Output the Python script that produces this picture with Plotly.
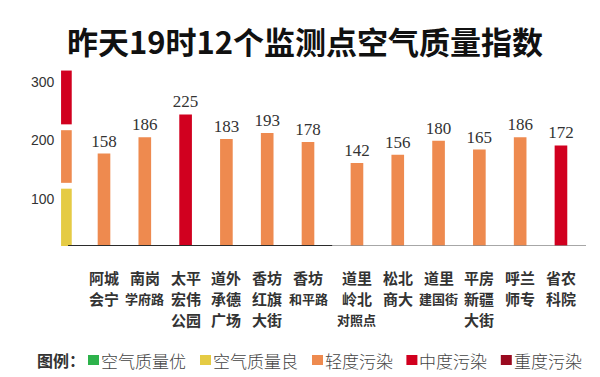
import plotly.graph_objects as go

# ---- data ----
station_lines = [
    ["阿城", "会宁"],
    ["南岗", "学府路"],
    ["太平", "宏伟", "公园"],
    ["道外", "承德", "广场"],
    ["香坊", "红旗", "大街"],
    ["香坊", "和平路"],
    ["道里", "岭北", "对照点"],
    ["松北", "商大"],
    ["道里", "建国街"],
    ["平房", "新疆", "大街"],
    ["呼兰", "师专"],
    ["省农", "科院"],
]
aqi_values = [158, 186, 225, 183, 193, 178, 142, 156, 180, 165, 186, 172]
bar_levels = ["轻度污染", "轻度污染", "中度污染", "轻度污染", "轻度污染", "轻度污染",
              "轻度污染", "轻度污染", "轻度污染", "轻度污染", "轻度污染", "中度污染"]
legend_levels = ["空气质量优", "空气质量良", "轻度污染", "中度污染", "重度污染"]
legend_colors = ["#2DB24B", "#E5CB44", "#EE8A4F", "#D1001F", "#9A0A1F"]
scale_bands = [(0, 100), (100, 200), (200, 300)]
scale_colors = ["#E5CB44", "#EE8A4F", "#D1001F"]
tick_values = [100, 200, 300]
title_text = "昨天19时12个监测点空气质量指数"

color_of = dict(zip(legend_levels, legend_colors))

W, H = 600, 377
MT, MB = 45, 139
PLOT_H = H - MT - MB
X0_PX, SLOT_PX = 96.0, 40.8
GROUP_GAP = 0.2

def px2x(px):
    return (px - X0_PX) / SLOT_PX

x_pos = [i + (GROUP_GAP if i >= 6 else 0) for i in range(len(aqi_values))]
scale_x = px2x(58.4)

fig = go.Figure()
fig.add_trace(go.Bar(
    x=x_pos, y=aqi_values,
    marker=dict(color=[color_of[l] for l in bar_levels], line=dict(width=0)),
    width=0.31,
    text=[str(v) for v in aqi_values],
    textposition="outside",
    constraintext="none",
    cliponaxis=False,
    textfont=dict(family="Liberation Serif", size=17, color="#333333"),
    hoverinfo="skip",
))

shapes = []
# colour scale bar on the left
for (lo, hi), c in zip(scale_bands, scale_colors):
    y0 = lo + (8 if lo > 0 else 0)
    y1 = hi - (2 if hi < 300 else 0)
    shapes.append(dict(type="rect", xref="x", yref="y",
                       x0=scale_x - 0.131, x1=scale_x + 0.131, y0=y0, y1=y1,
                       fillcolor=c, line=dict(width=0), layer="below"))
# baselines
mid_gap = (5 + 6 + GROUP_GAP) / 2
shapes.append(dict(type="line", xref="x", yref="y", x0=scale_x + 0.04, x1=mid_gap,
                   y0=0, y1=0, line=dict(color="#2b2b2b", width=2)))
shapes.append(dict(type="line", xref="x", yref="y", x0=mid_gap, x1=px2x(578),
                   y0=0, y1=0, line=dict(color="#8a8a8a", width=1.5)))

annotations = []
# y tick labels
for v in tick_values:
    annotations.append(dict(x=49 / W, xref="paper", y=v, yref="y", yshift=-11,
                            text=str(v), showarrow=False, xanchor="right", yanchor="middle",
                            font=dict(family="Liberation Sans", size=14, color="#333333")))
# category labels
for xi, lines in zip(x_pos, station_lines):
    for r, t in enumerate(lines):
        annotations.append(dict(x=xi, xref="x", y=0, yref="y", yshift=-(31 + 21.3 * r),
                                text=t, showarrow=False, xanchor="center", yanchor="middle",
                                font=dict(family="Noto Sans CJK SC", size=15 if len(t) <= 2 else 13,
                                          color="#333333", weight="bold")))

# legend
def ypx2paper(px):
    return (H - MB - px) / PLOT_H

leg_y = 352
annotations.append(dict(x=27 / W, xref="paper", y=ypx2paper(leg_y), yref="paper",
                        text="图例：", showarrow=False, xanchor="left", yanchor="middle",
                        font=dict(family="Noto Sans CJK SC", size=16, color="#333333", weight="bold")))
cx = 80.0
CH = 17.6
for name, c in zip(legend_levels, legend_colors):
    shapes.append(dict(type="rect", xref="paper", yref="paper",
                       x0=cx / W, x1=(cx + 11) / W,
                       y0=ypx2paper(leg_y + 5), y1=ypx2paper(leg_y - 5),
                       fillcolor=c, line=dict(width=0)))
    annotations.append(dict(x=(cx + 13) / W, xref="paper", y=ypx2paper(leg_y), yref="paper",
                            text=name, showarrow=False, xanchor="left", yanchor="middle",
                            xshift=-2,
                            font=dict(family="Noto Sans CJK SC", size=17, color="#444444", weight=300)))
    cx += 14 + CH * len(name) + 10

fig.update_layout(
    width=W, height=H,
    margin=dict(l=0, r=0, t=MT, b=MB, pad=0),
    paper_bgcolor="white", plot_bgcolor="white",
    showlegend=False,
    title=dict(text=title_text, x=297 / W, xanchor="center", y=1 - 35.5 / H, yanchor="middle",
               font=dict(family="Noto Sans CJK SC", size=31, color="#111111", weight="bold")),
    xaxis=dict(range=[px2x(0), px2x(W)], visible=False, fixedrange=True),
    yaxis=dict(range=[0, 330], visible=False, fixedrange=True),
    shapes=shapes,
    annotations=annotations,
    hovermode=False,
)

fig.write_html("out.html")
